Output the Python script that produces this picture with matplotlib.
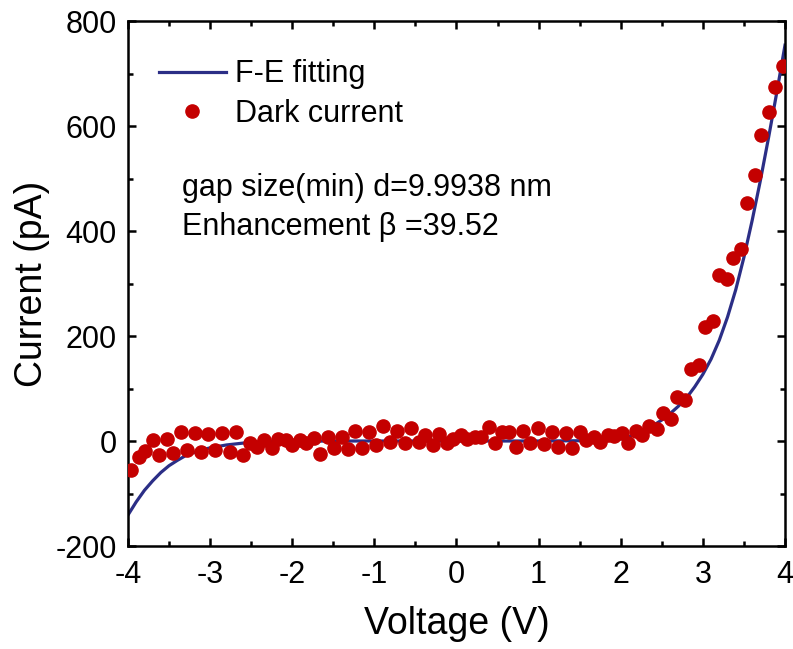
import matplotlib
matplotlib.use("Agg")
import matplotlib.pyplot as plt
from matplotlib.ticker import MultipleLocator

plt.rcParams['font.family'] = ['Liberation Sans', 'DejaVu Sans']
plt.rcParams['axes.unicode_minus'] = False

# Dark current measurement (V, pA)
voltage = [-3.96, -3.87, -3.79, -3.70, -3.62, -3.53, -3.45, -3.36, -3.28, -3.19,
           -3.11, -3.02, -2.94, -2.85, -2.76, -2.68, -2.60, -2.51, -2.43, -2.34,
           -2.25, -2.17, -2.08, -2.00, -1.91, -1.83, -1.74, -1.66, -1.57, -1.49,
           -1.40, -1.32, -1.23, -1.15, -1.06, -0.98, -0.89, -0.81, -0.72, -0.63,
           -0.55, -0.46, -0.38, -0.29, -0.21, -0.12, -0.04, 0.05, 0.13, 0.22,
           0.30, 0.39, 0.47, 0.56, 0.64, 0.73, 0.81, 0.90, 0.99, 1.07,
           1.16, 1.24, 1.33, 1.41, 1.50, 1.58, 1.67, 1.75, 1.84, 1.92,
           2.01, 2.09, 2.18, 2.26, 2.35, 2.44, 2.52, 2.61, 2.69, 2.78,
           2.86, 2.95, 3.03, 3.12, 3.20, 3.29, 3.37, 3.46, 3.54, 3.63,
           3.71, 3.80, 3.88, 3.97]
dark_current = [-55, -30, -19, 2, -26, 3, -22, 18, -18, 16,
                -21, 14, -18, 15, -20, 17, -27, -3, -12, 2,
                -13, 4, 2, -8, 2, -3, 6, -24, 7, -13,
                8, -16, 20, -14, 18, -8, 28, -1, 20, -3,
                24, -2, 12, -7, 13, -3, 4, 12, 4, 8,
                8, 26, -3, 18, 17, -11, 20, -4, 24, -5,
                17, -12, 15, -13, 18, 1, 8, -2, 12, 10,
                16, -3, 20, 11, 28, 22, 54, 42, 83, 79,
                137, 144, 218, 229, 316, 308, 349, 366, 454, 507,
                583, 627, 674, 715]

# F-E fitting curve samples (V, pA)
fit_voltage = [-4.0, -3.9, -3.8, -3.7, -3.6, -3.5, -3.4, -3.3, -3.2, -3.1,
               -3.0, -2.8, -2.6, -2.4, -2.2, -2.0, -1.5, -1.0, 0.0, 1.0,
               1.5, 1.8, 2.0, 2.1, 2.2, 2.3, 2.4, 2.5, 2.6, 2.7,
               2.8, 2.9, 3.0, 3.1, 3.2, 3.3, 3.4, 3.5, 3.6, 3.7,
               3.8, 3.9, 4.0]
fit_current = [-141, -116, -94, -76, -60, -47, -37, -28, -22, -17,
               -13, -7.5, -4, -2, -1, -0.5, 0, 0, 0, 0,
               0.5, 2, 4, 8, 14, 21, 30, 40, 52, 66,
               82, 103, 127, 156, 192, 236, 288, 350, 420, 496,
               578, 664, 754]

line_color = '#2B2E86'
dot_color = '#C40000'

fig = plt.figure(figsize=(7.93, 6.49), dpi=100)
ax = fig.add_axes([0.1614, 0.1587, 0.8285, 0.8089])

ax.plot(fit_voltage, fit_current, color=line_color, lw=2.3, label='F-E fitting', zorder=2)
ax.plot(voltage, dark_current, 'o', color=dot_color, ms=9.5, mec=dot_color,
        label='Dark current', zorder=3)

ax.set_xlim(-4, 4)
ax.set_ylim(-200, 800)
ax.xaxis.set_major_locator(MultipleLocator(1))
ax.xaxis.set_minor_locator(MultipleLocator(0.5))
ax.yaxis.set_major_locator(MultipleLocator(200))
ax.yaxis.set_minor_locator(MultipleLocator(100))

for s in ax.spines.values():
    s.set_linewidth(1.8)
ax.tick_params(which='both', direction='in', top=True, right=True, width=1.8,
               labelsize=22)
ax.tick_params(which='major', length=6)
ax.tick_params(which='minor', length=3.5)
ax.tick_params(axis='x', which='major', pad=10)
ax.tick_params(axis='y', which='major', pad=8)

ax.set_xlabel('Voltage (V)', fontsize=27)
ax.set_ylabel('Current (pA)', fontsize=27)
ax.xaxis.set_label_coords(0.5, -0.115)
ax.yaxis.set_label_coords(-0.119, 0.5)

leg = ax.legend(loc='upper left', bbox_to_anchor=(0.028, 0.95), frameon=False,
                fontsize=22, handlelength=2.2, handletextpad=0.3,
                labelspacing=0.3, borderaxespad=0.0)

ax.text(-3.34, 482, 'gap size(min) d=9.9938 nm', fontsize=22, va='center', ha='left')
ax.text(-3.34, 408, 'Enhancement \u03b2 =39.52', fontsize=22, va='center', ha='left')

fig.savefig('out.png', dpi=100)
